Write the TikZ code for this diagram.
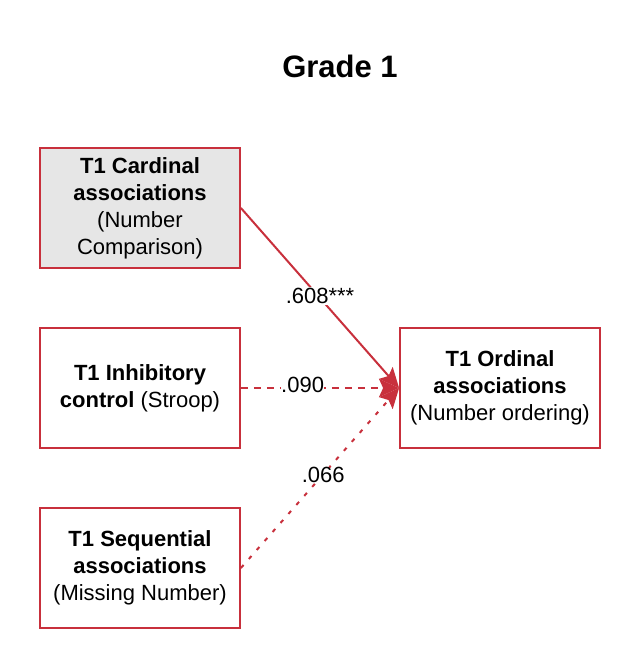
\documentclass[tikz,border=0pt]{standalone}
\usepackage{fontspec}
\setmainfont{Liberation Sans}
\usetikzlibrary{arrows.meta}
\definecolor{boxred}{RGB}{200,48,60}
\definecolor{boxgray}{RGB}{230,230,230}
\begin{document}
\begin{tikzpicture}[x=1pt,y=-1pt,
  varbox/.style={draw=boxred,line width=1.8pt,minimum width=200pt,minimum height=120pt,
    inner sep=0pt,align=center,font=\fontsize{22}{27}\selectfont},
  path/.style={draw=boxred,line width=2pt,-{Stealth[length=20pt,width=18pt,inset=4pt]}},
  lab/.style={fill=white,inner sep=1pt,font=\fontsize{22}{25}\selectfont}]
\useasboundingbox (0,0) rectangle (640,668);
\node[font=\fontsize{31}{36}\selectfont\bfseries] (title) at (340,66) {Grade 1};
\node[varbox,fill=boxgray] (card) at (140,208) {\textbf{T1 Cardinal}\\\textbf{associations}\\(Number\\Comparison)};
\node[varbox] (inhib) at (140,388) {\textbf{T1 Inhibitory}\\\textbf{control} (Stroop)};
\node[varbox] (seq) at (140,568) {\textbf{T1 Sequential}\\\textbf{associations}\\(Missing Number)};
\node[varbox] (ord) at (500,388) {\textbf{T1 Ordinal}\\\textbf{associations}\\(Number ordering)};
\coordinate (tip) at (ord.west);
\draw[path] (card.east) -- node[lab,pos=0.5,yshift=2pt] {.608***} (tip);
\draw[path,dash pattern=on 7pt off 6pt] (inhib.east) -- node[lab,pos=0.39,yshift=3pt,inner sep=0pt] {.090} (tip);
\draw[path,dash pattern=on 4pt off 8pt] (seq.east) -- node[lab,pos=0.52,yshift=-1pt,inner sep=0pt] {.066} (tip);
\end{tikzpicture}
\end{document}
